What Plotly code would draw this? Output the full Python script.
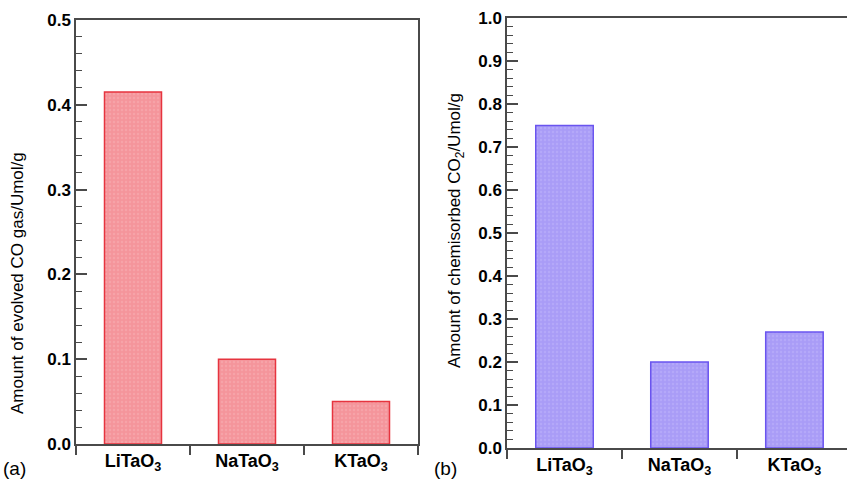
import plotly.graph_objects as go

categories = ["LiTaO<sub>3</sub>", "NaTaO<sub>3</sub>", "KTaO<sub>3</sub>"]
co_evolved = [0.415, 0.10, 0.05]
co2_chemisorbed = [0.75, 0.20, 0.27]

left_title = "Amount of evolved CO gas/Umol/g"
right_title = "Amount of chemisorbed CO<sub>2</sub>/Umol/g"

W, H = 847, 479
FONT = "Liberation Sans, Arial, sans-serif"
AXC = "#4a4a4a"

fig = go.Figure()
fig.add_trace(go.Bar(
    x=categories, y=co_evolved, width=0.5, xaxis="x", yaxis="y",
    marker=dict(color="#f4959b", line=dict(color="#e6343f", width=1.5),
                pattern=dict(shape=".", fgcolor="#f7b0b4", size=4, solidity=0.3)),
    showlegend=False))
fig.add_trace(go.Bar(
    x=categories, y=co2_chemisorbed, width=0.5, xaxis="x2", yaxis="y2",
    marker=dict(color="#a99cf7", line=dict(color="#6a54ef", width=1.5),
                pattern=dict(shape=".", fgcolor="#bdb3f9", size=4, solidity=0.3)),
    showlegend=False))

tickfont = dict(family=FONT, size=17, color="black", weight="bold")
catfont = dict(family=FONT, size=18, color="black", weight="bold")
titlefont = dict(family=FONT, size=17, color="black")

def xax(domain, rng, anchor):
    return dict(domain=domain, anchor=anchor, type="category", range=rng,
                tickson="boundaries", ticks="outside", ticklen=9, tickwidth=1.5,
                tickcolor=AXC, showline=True, linecolor=AXC, linewidth=1.5,
                mirror=True, showgrid=False, zeroline=False, tickfont=catfont,
                fixedrange=True, automargin=False)

def yax(domain, rng, anchor):
    return dict(domain=domain, anchor=anchor, range=rng, dtick=0.1,
                tickformat=".1f", ticks="inside", ticklen=11, tickwidth=1.5,
                tickcolor=AXC, showline=True, linecolor=AXC, linewidth=1.5,
                mirror=True, showgrid=False, zeroline=False, tickfont=tickfont,
                automargin=False, fixedrange=True,
                minor=dict(dtick=0.02, ticks="inside", ticklen=6, tickwidth=1.2,
                           tickcolor=AXC))

def ytitle(text, xpx, ypx):
    return dict(text=text, x=xpx / W, y=(H - ypx) / H, xref="paper", yref="paper",
                xanchor="center", yanchor="middle", textangle=-90,
                showarrow=False, font=titlefont)

fig.update_layout(
    width=W, height=H, margin=dict(l=0, r=0, t=0, b=0),
    paper_bgcolor="white", plot_bgcolor="white", bargap=0.5,
    xaxis=xax([76 / W, 418 / W], [-0.5, 2.5], "y"),
    yaxis=yax([(H - 444) / H, (H - 20) / H], [0, 0.5], "x"),
    xaxis2=xax([507 / W, 1.0], [-0.5, 2.457], "y2"),
    yaxis2=yax([(H - 448) / H, (H - 18) / H], [0, 1.0], "x2"),
    annotations=[
        ytitle(left_title, 18, 283),
        ytitle(right_title, 456, 231),
        dict(text="(a)", x=1 / W, y=(H - 468) / H, xref="paper", yref="paper",
             xanchor="left", yanchor="middle", showarrow=False,
             font=dict(family=FONT, size=19, color="black")),
        dict(text="(b)", x=432 / W, y=(H - 468) / H, xref="paper", yref="paper",
             xanchor="left", yanchor="middle", showarrow=False,
             font=dict(family=FONT, size=19, color="black")),
    ],
)

fig.write_html("out.html", config={"displayModeBar": False},
               post_script="document.body.style.margin='0';document.body.style.overflow='hidden';")
